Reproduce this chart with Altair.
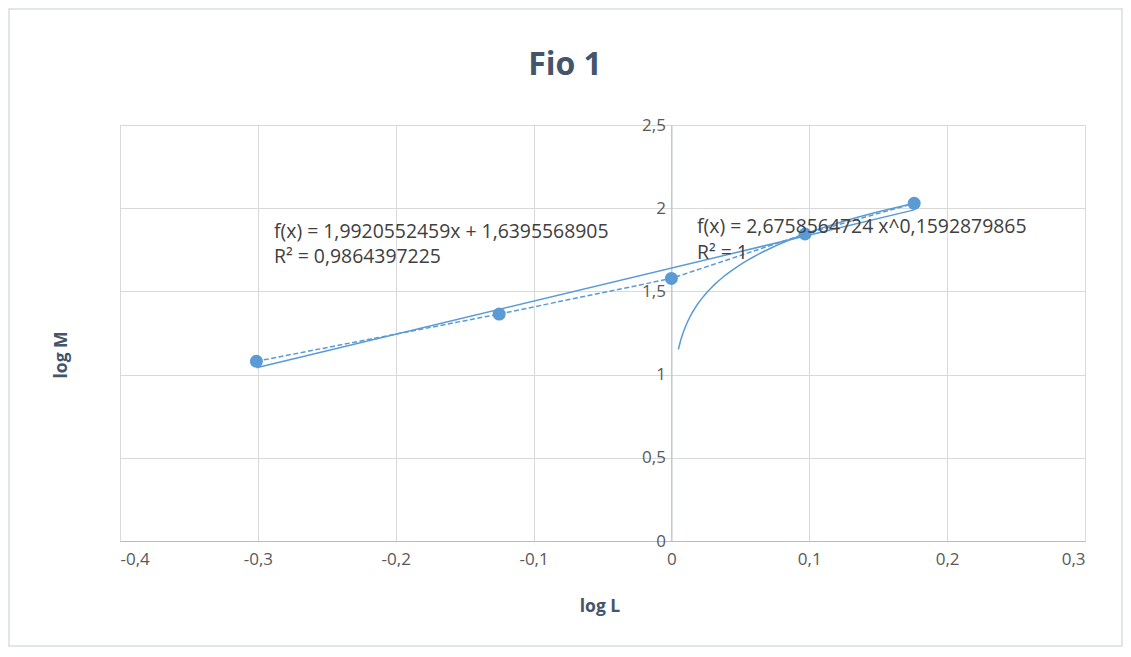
import altair as alt
import pandas as pd

# data
log_L = [-0.30103, -0.12494, 0.0, 0.09691, 0.17609]
log_M = [1.080, 1.364, 1.578, 1.845, 2.029]

x_ticks = [-0.4, -0.3, -0.2, -0.1, 0.0, 0.1, 0.2, 0.3]
y_ticks = [0.0, 0.5, 1.0, 1.5, 2.0, 2.5]

title_text = "Fio 1"
x_title = "log L"
y_title = "log M"
lin_eq = "f(x) = 1,9920552459x + 1,6395568905"
lin_r2 = "R² = 0,9864397225"
pow_eq = "f(x) = 2,6758564724 x^0,1592879865"
pow_r2 = "R² = 1"
pow_extent = [0.005, 0.17609]

df = pd.DataFrame({"x": log_L, "y": log_M})
one = pd.DataFrame({"k": [0]})

W, H = 965, 416
FONT = "Open Sans"
BLUE = "#5B9BD5"
TXT = "#595959"

xs = alt.Scale(domain=[-0.4, 0.3], nice=False, zero=False)
ys = alt.Scale(domain=[0, 2.5], nice=False)

lab = "replace(toString(datum.value), '.', ',')"

xax = alt.Axis(values=x_ticks, grid=True, gridColor="#d9d9d9", gridWidth=1,
               domainColor="#b4bccb", domainWidth=1, ticks=False,
               labelFontSize=17, labelColor=TXT, labelFont=FONT,
               labelPadding=10, labelExpr=lab, title=None)
yax = alt.Axis(values=y_ticks, grid=True, gridColor="#d9d9d9", gridWidth=1,
               domainColor="#b4bccb", domainWidth=1, ticks=False,
               labelFontSize=17, labelColor=TXT, labelFont=FONT,
               labelPadding=6, labelExpr=lab, title=None,
               offset=-W * 4 / 7)

base = alt.Chart(df)

conn = base.mark_line(color=BLUE, strokeWidth=1.5, strokeDash=[5, 2.5]).encode(
    x=alt.X("x:Q", scale=xs, axis=xax),
    y=alt.Y("y:Q", scale=ys, axis=yax),
)

pts = base.mark_circle(color=BLUE, size=170, opacity=1).encode(
    x=alt.X("x:Q", scale=xs), y=alt.Y("y:Q", scale=ys)
)

lin = base.transform_regression("x", "y").mark_line(
    color=BLUE, strokeWidth=1.5
).encode(x=alt.X("x:Q", scale=xs), y=alt.Y("y:Q", scale=ys))

pw = base.transform_filter("datum.x > 0").transform_regression(
    "x", "y", method="pow", extent=pow_extent
).mark_line(color=BLUE, strokeWidth=1.5).encode(
    x=alt.X("x:Q", scale=xs), y=alt.Y("y:Q", scale=ys)
)

border = alt.Chart(one).mark_rect(
    fillOpacity=0, stroke="#d9dde3", strokeWidth=1.5
).encode(x=alt.value(-111), x2=alt.value(1002), y=alt.value(-116), y2=alt.value(521))


def txt(s, x, y, size=16, bold=False, color="#404040", align="left", angle=0):
    kw = dict(align=align, baseline="middle", fontSize=size, font=FONT, color=color)
    if bold:
        kw["fontWeight"] = "bold"
    if angle:
        kw["angle"] = angle
    return alt.Chart(one).mark_text(**kw).encode(
        x=alt.value(x), y=alt.value(y), text=alt.value(s)
    )


texts = [
    txt(title_text, 445, -60, size=32, bold=True, color="#44546A", align="center"),
    txt(x_title, 480, 482, size=17.5, bold=True, color="#44546A", align="center"),
    txt(y_title, -58, 230, size=17.5, bold=True, color="#44546A", align="center", angle=270),
    txt(lin_eq, 154, 107, size=19.4),
    txt(lin_r2, 154, 132, size=19.4),
    txt(pow_eq, 577, 102, size=19.4),
    txt(pow_r2, 577, 128, size=19.4),
]

chart = alt.layer(border, conn, lin, pw, pts, *texts).properties(
    width=W, height=H,
    autosize=alt.AutoSizeParams(type="none"),
    padding={"left": 112, "top": 117, "right": 38, "bottom": 108},
).configure_view(stroke=None).configure(background="white")

chart.save("out.html", embed_options={"renderer": "svg", "actions": False})
